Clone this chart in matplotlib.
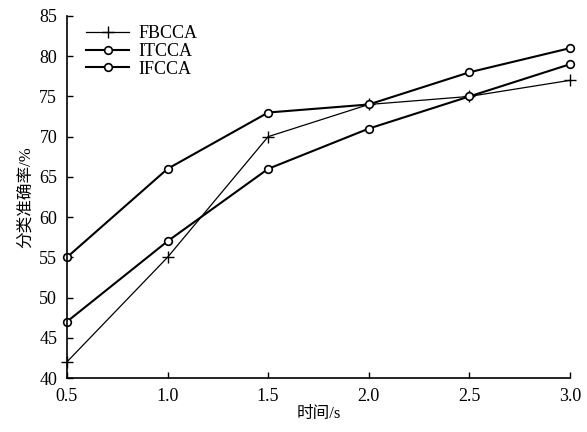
import matplotlib
matplotlib.use("Agg")
import matplotlib.pyplot as plt

t = [0.5, 1.0, 1.5, 2.0, 2.5, 3.0]
fbcca = [42, 55, 70, 74, 75, 77]
itcca = [47, 57, 66, 71, 75, 79]
ifcca = [55, 66, 73, 74, 78, 81]
xticks = [0.5, 1.0, 1.5, 2.0, 2.5, 3.0]
yticks = [40, 45, 50, 55, 60, 65, 70, 75, 80, 85]

plt.rcParams['font.family'] = ['Liberation Serif', 'Noto Sans CJK SC']
plt.rcParams['font.size'] = 13

fig = plt.figure(figsize=(5.87, 4.32), dpi=100)
ax = fig.add_axes([0.114, 0.125, 0.857, 0.838])

ax.plot(t, fbcca, color='black', lw=0.9, marker='+', ms=9, mew=1.0, label='FBCCA', clip_on=False)
ax.plot(t, itcca, color='black', lw=1.5, marker='o', ms=5.5, mfc='white', mew=1.2, label='ITCCA', clip_on=False)
ax.plot(t, ifcca, color='black', lw=1.5, marker='o', ms=5.5, mfc='white', mew=1.2, label='IFCCA', clip_on=False)

ax.set_xlim(0.5, 3.0)
ax.set_ylim(40, 85)
ax.set_xticks(xticks)
ax.set_xticklabels(['%.1f' % v for v in xticks])
ax.set_yticks(yticks)
ax.tick_params(direction='in', length=4, width=1, pad=7)
for s in ['top', 'right']:
    ax.spines[s].set_visible(False)
for s in ['left', 'bottom']:
    ax.spines[s].set_linewidth(1.2)

ax.set_xlabel('时间/s', fontsize=12, labelpad=1)
ax.set_ylabel('分类准确率/%', fontsize=12, labelpad=4)

ax.legend(loc='upper left', frameon=False, handlelength=2.4, handletextpad=0.5,
          labelspacing=0.05, borderaxespad=0.1, bbox_to_anchor=(0.02, 1.0))

fig.savefig('out.png', dpi=100)
